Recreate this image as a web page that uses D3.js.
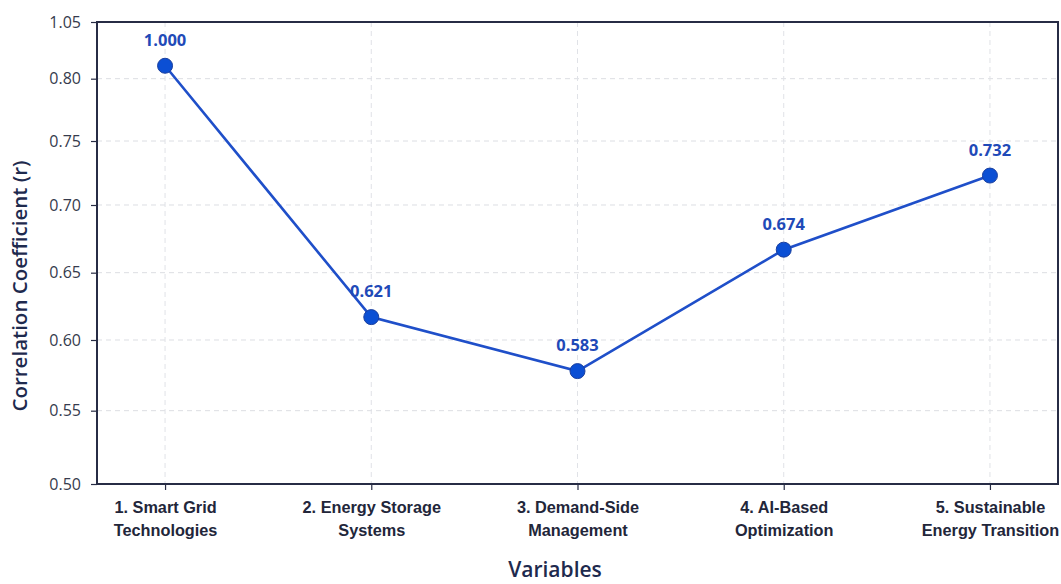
<!DOCTYPE html>
<html>
<head>
<meta charset="utf-8">
<script src="https://cdn.jsdelivr.net/npm/d3@7"></script>
<style>
  html, body { margin: 0; padding: 0; background: #ffffff; }
  svg { display: block; font-family: "Open Sans", "Noto Sans", sans-serif; }
</style>
</head>
<body>
<svg id="chart" width="1061" height="584"></svg>
<script>
// ---- data ----
const categories = [
  ["1. Smart Grid", "Technologies"],
  ["2. Energy Storage", "Systems"],
  ["3. Demand-Side", "Management"],
  ["4. AI-Based", "Optimization"],
  ["5. Sustainable", "Energy Transition"]
];
// plotted positions (on its axis)
const values = [0.857, 0.617, 0.578, 0.667, 0.723];
// annotation numbers printed above the points
const valueLabels = ["1.000", "0.621", "0.583", "0.674", "0.732"];
const yTicks = [0.50, 0.55, 0.60, 0.65, 0.70, 0.75, 0.80, 1.05];
const yTickLabels = ["0.50", "0.55", "0.60", "0.65", "0.70", "0.75", "0.80", "1.05"];
// relative height of each tick on the drawn (uneven) axis, 0 = bottom, 1 = top
const yTickFrac = [0, 0.1587, 0.3117, 0.4574, 0.6039, 0.7424, 0.8773, 1];

// ---- layout ----
const svg = d3.select("#chart");
const margin = { left: 97, right: 3, top: 22, bottom: 100 };
const W = 1061, H = 584;
const x0 = margin.left, x1 = W - margin.right;
const y0 = H - margin.bottom, y1 = margin.top;
const ph = y0 - y1;

const x = d3.scalePoint()
  .domain(categories.map((d, i) => i))
  .range([x0, x1])
  .padding(0.33);

const y = d3.scaleLinear()
  .domain(yTicks)
  .range(yTickFrac.map(f => y0 - f * ph));

const axisColor = "#272c45";
const textColor = "#363b4d";
const blue = "#1f4fc9";

// grid
const grid = svg.append("g");
grid.selectAll("line.h")
  .data(yTicks.slice(1, -1))
  .join("line")
  .attr("x1", x0).attr("x2", x1)
  .attr("y1", d => y(d)).attr("y2", d => y(d))
  .attr("stroke", "#dcdee3").attr("stroke-width", 1)
  .attr("stroke-dasharray", "5,4");
grid.selectAll("line.v")
  .data(categories.map((d, i) => i))
  .join("line")
  .attr("x1", d => x(d)).attr("x2", d => x(d))
  .attr("y1", y1).attr("y2", y0)
  .attr("stroke", "#e0e2e7").attr("stroke-width", 1)
  .attr("stroke-dasharray", "5,4");

// y axis
const yAxis = d3.axisLeft(y)
  .tickValues(yTicks)
  .tickFormat((d, i) => yTickLabels[i])
  .tickSize(6).tickPadding(10);
const gy = svg.append("g").attr("transform", `translate(${x0},0)`).call(yAxis);
gy.select(".domain").remove();
gy.selectAll(".tick line").attr("stroke", axisColor).attr("stroke-width", 1.2);
gy.selectAll(".tick text").attr("fill", textColor).attr("font-size", 16)
  .attr("font-family", "'Open Sans', sans-serif");

// x axis
const xAxis = d3.axisBottom(x).tickSize(6).tickFormat("");
const gx = svg.append("g").attr("transform", `translate(0,${y0})`).call(xAxis);
gx.select(".domain").remove();
gx.selectAll(".tick line").attr("stroke", axisColor).attr("stroke-width", 1.2);
gx.selectAll(".tick")
  .append("text")
  .attr("fill", "#22263a")
  .attr("font-size", 16.3)
  .attr("font-weight", 600)
  .attr("text-anchor", "middle")
  .selectAll("tspan")
  .data(d => categories[d])
  .join("tspan")
  .attr("x", 0)
  .attr("y", (d, i) => 29 + i * 23)
  .text(d => d);

// frame
svg.append("rect")
  .attr("x", x0).attr("y", y1)
  .attr("width", x1 - x0).attr("height", y0 - y1)
  .attr("fill", "none").attr("stroke", axisColor).attr("stroke-width", 2);

// line
const line = d3.line().x((d, i) => x(i)).y(d => y(d));
svg.append("path")
  .datum(values)
  .attr("d", line)
  .attr("fill", "none")
  .attr("stroke", blue)
  .attr("stroke-width", 2.6);

// points
svg.selectAll("circle.pt")
  .data(values)
  .join("circle")
  .attr("cx", (d, i) => x(i))
  .attr("cy", d => y(d))
  .attr("r", 7.5)
  .attr("fill", "#0b4fd4")
  .attr("stroke", "#1a3f9e")
  .attr("stroke-width", 1);

// value labels
svg.selectAll("text.vl")
  .data(values)
  .join("text")
  .attr("x", (d, i) => x(i))
  .attr("y", d => y(d) - 20)
  .attr("text-anchor", "middle")
  .attr("fill", "#1f4ab8")
  .attr("font-size", 16.5)
  .attr("font-weight", 700)
  .text((d, i) => valueLabels[i]);

// axis titles
svg.append("text")
  .attr("transform", `translate(27,286) rotate(-90)`)
  .attr("text-anchor", "middle")
  .attr("fill", "#1e2a4e")
  .attr("font-size", 20.5)
  .attr("font-weight", 600)
  .text("Correlation Coefficient (r)");

svg.append("text")
  .attr("x", 555)
  .attr("y", 577)
  .attr("text-anchor", "middle")
  .attr("fill", "#1e2a4e")
  .attr("font-size", 21)
  .attr("font-weight", 600)
  .text("Variables");
</script>
</body>
</html>
